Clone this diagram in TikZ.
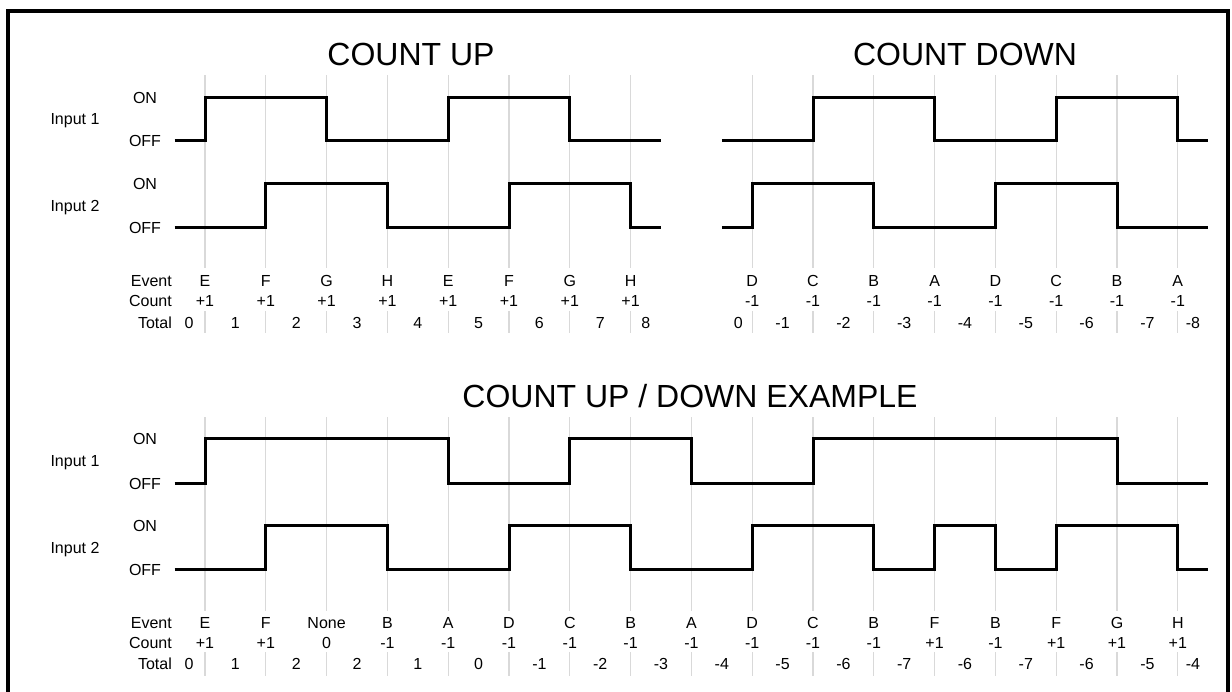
\documentclass[tikz,border=0pt]{standalone}
\usepackage{fontspec}
\setmainfont{Liberation Sans}
\definecolor{gridgray}{HTML}{D9D9D9}

\begin{document}
\begin{tikzpicture}[
    x=1pt, y=-1pt,
    signal/.style={line width=3pt, line join=miter},
    gridline/.style={line width=1.3pt, draw=gridgray},
    frameline/.style={line width=4pt},
    txt/.style={font=\fontsize{16}{19}\selectfont, inner sep=0pt, anchor=base},
    rowlabel/.style={txt, anchor=base east},
    heading/.style={font=\fontsize{32}{38}\selectfont, inner sep=0pt, anchor=base},
]

\useasboundingbox (0,0) rectangle (1232,691);
\clip (0,0) rectangle (1232,691);

% Frame, running out at the bottom edge
\draw[frameline] (8,11) rectangle (1228,720);

% Headings
\node[heading] (upttl) at (411,65.5) {COUNT UP};
\node[heading] (downttl) at (965,65) {COUNT DOWN};
\node[heading] (bothttl) at (690,407.5) {COUNT UP / DOWN EXAMPLE};

% Left-hand labels, top block
\node[txt] (uponA) at (145,103) {ON};
\node[txt] (upoffA) at (145,146) {OFF};
\node[txt] (upinA) at (75,124) {Input 1};
\node[txt] (uponB) at (145,189) {ON};
\node[txt] (upoffB) at (145,233) {OFF};
\node[txt] (upinB) at (75,211) {Input 2};
\node[rowlabel] (upevt) at (172,286) {Event};
\node[rowlabel] (upcnt) at (172,306) {Count};
\node[rowlabel] (uptot) at (172,328) {Total};

% Left-hand labels, bottom block
\node[txt] (exonA) at (145,444) {ON};
\node[txt] (exoffA) at (145,489) {OFF};
\node[txt] (exinA) at (75,466) {Input 1};
\node[txt] (exonB) at (145,531) {ON};
\node[txt] (exoffB) at (145,575) {OFF};
\node[txt] (exinB) at (75,553) {Input 2};
\node[rowlabel] (exevt) at (172,628) {Event};
\node[rowlabel] (excnt) at (172,648) {Count};
\node[rowlabel] (extot) at (172,669) {Total};

% Everything on the event grid: x counts grid steps
\begin{scope}[xshift=205pt, x=60.8pt]

% Grid lines
\foreach \k in {0,...,16} {
  \ifnum\k=8\else
    \draw[gridline] (\k,75) -- (\k,268) (\k,311) -- (\k,333);
  \fi
  \draw[gridline] (\k,417) -- (\k,611) (\k,652) -- (\k,676);
}

% Count up waves
\draw[signal] (-0.5,140) -| (0,97) -| (2,140) -| (4,97) -| (6,140) -- (7.5,140);
\draw[signal] (-0.5,227) -| (1,183) -| (3,227) -| (5,183) -| (7,227) -- (7.5,227);

% Count down waves
\draw[signal] (8.5,140) -| (10,97) -| (12,140) -| (14,97) -| (16,140) -- (16.5,140);
\draw[signal] (8.5,227) -| (9,183) -| (11,227) -| (13,183) -| (15,227) -- (16.5,227);

% Up / down example waves
\draw[signal] (-0.5,483) -| (0,438) -| (4,483) -| (6,438) -| (8,483) -| (10,438)
    -| (15,483) -- (16.5,483);
\draw[signal] (-0.5,569) -| (1,525) -| (3,569) -| (5,525) -| (7,569) -| (9,525)
    -| (11,569) -| (12,525) -| (13,569) -| (14,525) -| (16,569) -- (16.5,569);

% Count up rows
\foreach \ev [count=\k from 0] in {E,F,G,H,E,F,G,H} {
  \node[txt] (upev\k) at (\k,286) {\ev};
  \node[txt] (upct\k) at (\k,306) {+1};
}
\node[txt] (uptotS) at (-0.26,328) {0};
\foreach \tot [count=\k from 0] in {1,2,3,4,5,6,7}
  \node[txt] (uptot\k) at (\k+0.5,328) {\tot};
\node[txt] (uptotE) at (7.25,328) {8};

% Count down rows
\foreach \ev [count=\k from 9] in {D,C,B,A,D,C,B,A} {
  \node[txt] (dnev\k) at (\k,286) {\ev};
  \node[txt] (dnct\k) at (\k,306) {-1};
}
\node[txt] (dntotS) at (8.77,328) {0};
\foreach \tot [count=\k from 9] in {-1,-2,-3,-4,-5,-6,-7}
  \node[txt] (dntot\k) at (\k+0.5,328) {\tot};
\node[txt] (dntotE) at (16.25,328) {-8};

% Example rows
\foreach \ev/\cnt [count=\k from 0] in {E/+1,F/+1,None/0,B/-1,A/-1,D/-1,C/-1,B/-1,
    A/-1,D/-1,C/-1,B/-1,F/+1,B/-1,F/+1,G/+1,H/+1} {
  \node[txt] (exev\k) at (\k,628) {\ev};
  \node[txt] (exct\k) at (\k,648) {\cnt};
}
\node[txt] (extotS) at (-0.26,669) {0};
\foreach \tot [count=\k from 0] in {1,2,2,1,0,-1,-2,-3,-4,-5,-6,-7,-6,-7,-6,-5}
  \node[txt] (extot\k) at (\k+0.5,669) {\tot};
\node[txt] (extotE) at (16.25,669) {-4};

\end{scope}

\end{tikzpicture}
\end{document}
